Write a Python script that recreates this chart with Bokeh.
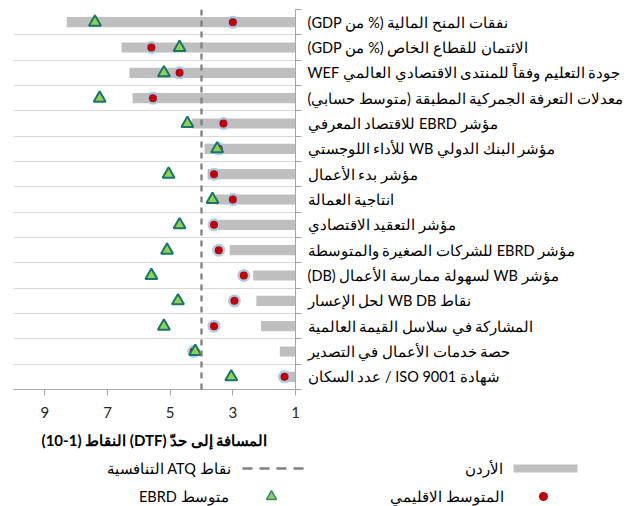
from bokeh.plotting import figure
from bokeh.models import Range1d, FixedTicker, Span
from bokeh.core.properties import value
from bokeh.embed import file_html
from bokeh.resources import INLINE

RLE, PDF = "\u202b", "\u202c"

categories = [
    "نفقات المنح المالية (% من GDP)",
    "الائتمان للقطاع الخاص (% من GDP)",
    "جودة التعليم وفقاً للمنتدى الاقتصادي العالمي WEF",
    "معدلات التعرفة الجمركية المطبقة (متوسط حسابي)",
    "مؤشر EBRD للاقتصاد المعرفي",
    "مؤشر البنك الدولي WB للأداء اللوجستي",
    "مؤشر بدء الأعمال",
    "انتاجية العمالة",
    "مؤشر التعقيد الاقتصادي",
    "مؤشر EBRD للشركات الصغيرة والمتوسطة",
    "مؤشر WB لسهولة ممارسة الأعمال (DB)",
    "نقاط WB DB لحل الإعسار",
    "المشاركة في سلاسل القيمة العالمية",
    "حصة خدمات الأعمال في التصدير",
    "شهادة ISO 9001 / عدد السكان",
]
jordan = [8.3, 6.55, 6.3, 6.2, 4.3, 3.9, 3.8, 3.55, 3.45, 3.1, 2.35, 2.25, 2.1, 1.5, 1.25]
regional = [3.0, 5.6, 4.7, 5.55, 3.3, 3.45, 3.6, 3.0, 3.6, 3.45, 2.65, 2.95, 3.6, 4.25, 1.35]
ebrd = [7.4, 4.7, 5.2, 7.25, 4.45, 3.5, 5.05, 3.65, 4.7, 5.1, 5.6, 4.75, 5.2, 4.2, 3.05]
atq_threshold = 4.0
x_ticks = [9, 7, 5, 3, 1]
x_title = "المسافة إلى حدّ (DTF) النقاط (1-10)"
legend_jordan = "الأردن"
legend_atq = "نقاط ATQ التنافسية"
legend_regional = "المتوسط الاقليمي"
legend_ebrd = "متوسط EBRD"

FONT = "Lato"
n = len(categories)
ypos = [n - 0.5 - i for i in range(n)]
x_start, x_end = 10, 1

W, H1, H2 = 629, 455, 51

p = figure(width=W, height=H1, x_range=Range1d(x_start, x_end), y_range=Range1d(0, n),
           output_backend="svg", toolbar_location=None, y_axis_location="right",
           min_border_left=13, min_border_right=334, min_border_top=9, min_border_bottom=66)
p.outline_line_color = None

# grid
p.xgrid.visible = False
p.ygrid.ticker = FixedTicker(ticks=list(range(1, n + 1)))
p.ygrid.grid_line_color = "#d9d9d9"
p.ygrid.grid_line_width = 1

# x axis
xa = p.xaxis[0]
xa.ticker = FixedTicker(ticks=x_ticks, minor_ticks=[])
xa.axis_line_color = "#a6a6a6"
xa.major_tick_line_color = "#a6a6a6"
xa.major_tick_in = 0
xa.major_tick_out = 6
xa.minor_tick_line_color = None
xa.major_label_standoff = 11
xa.major_label_text_font = FONT
xa.major_label_text_font_size = "15px"
xa.major_label_text_color = "#262626"
xa.axis_label = RLE + x_title + PDF
xa.axis_label_text_font = FONT
xa.axis_label_text_font_style = "bold"
xa.axis_label_text_font_size = "15px"
xa.axis_label_text_color = "#000000"
xa.axis_label_standoff = 10

# y axis (right): labels at row centres, boundary ticks as minor ticks
ya = p.yaxis[0]
ya.ticker = FixedTicker(ticks=ypos, minor_ticks=list(range(0, n + 1)))
ya.major_label_overrides = {y: RLE + c + PDF for y, c in zip(ypos, categories)}
ya.axis_line_color = "#a6a6a6"
ya.major_tick_line_color = None
ya.major_tick_in = 0
ya.major_tick_out = 6
ya.minor_tick_line_color = "#a6a6a6"
ya.minor_tick_in = 0
ya.minor_tick_out = 6
ya.major_label_standoff = 6
ya.major_label_text_font = FONT
ya.major_label_text_font_size = "14.5px"
ya.major_label_text_color = "#000000"
ya.major_label_text_align = "left"

# bars (Jordan)
p.hbar(y=ypos, left=jordan, right=[x_end] * n, height=0.4,
       fill_color="#bfbfbf", line_color=None)

# ATQ threshold
p.add_layout(Span(location=atq_threshold, dimension="height", line_color="#7f7f7f",
                  line_width=2.3, line_dash="6 5"))

# regional average
p.scatter(x=regional, y=ypos, marker="circle", size=13,
          fill_color="#9dc3e6", fill_alpha=0.85, line_color=None)
p.scatter(x=regional, y=ypos, marker="circle", size=8,
          fill_color="#c00000", line_color=None)

# EBRD average
p.scatter(x=ebrd, y=ypos, marker="triangle", size=12,
          fill_color="#92d050", line_color="#17766b", line_width=2)

# legend figure (right-to-left legend: text, then key)
lg = figure(width=W, height=H2, x_range=Range1d(0, W), y_range=Range1d(H2, 0),
            output_backend="svg", toolbar_location=None, x_axis_type=None, y_axis_type=None,
            min_border=0)
lg.outline_line_color = None
lg.grid.visible = False

FS = "14.5px"
lg.rect(x=[545], y=[13], width=64, height=8, fill_color="#bfbfbf", line_color=None)
lg.text(x=[502], y=[13], text=[RLE + legend_jordan + PDF], text_align="right",
        text_baseline="middle", text_font=value(FONT), text_font_size=FS, text_color="#000000")
lg.scatter(x=[543], y=[41], marker="circle", size=9, fill_color="#c00000", line_color=None)
lg.text(x=[503], y=[41], text=[RLE + legend_regional + PDF], text_align="right",
        text_baseline="middle", text_font=value(FONT), text_font_size=FS, text_color="#000000")
lg.line(x=[242, 305], y=[13, 13], line_color="#7f7f7f", line_width=2.3, line_dash="10 7")
lg.text(x=[230], y=[13], text=[RLE + legend_atq + PDF], text_align="right",
        text_baseline="middle", text_font=value(FONT), text_font_size=FS, text_color="#000000")
lg.scatter(x=[271], y=[41], marker="triangle", size=10, fill_color="#92d050",
           line_color="#2e8b7a", line_width=1.5)
lg.text(x=[228], y=[41], text=[RLE + legend_ebrd + PDF], text_align="right",
        text_baseline="middle", text_font=value(FONT), text_font_size=FS, text_color="#000000")

open("out.html", "w").write(file_html([p, lg], INLINE))
